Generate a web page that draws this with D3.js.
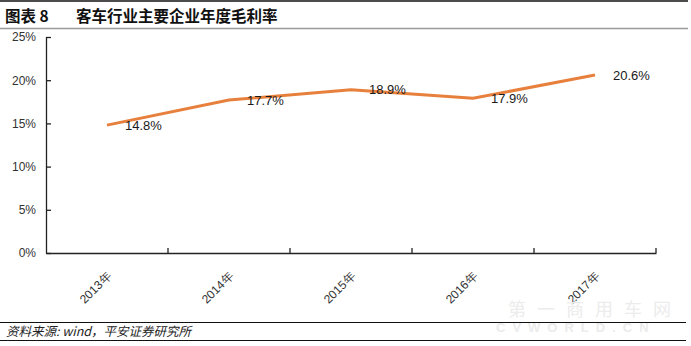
<!DOCTYPE html>
<html>
<head>
<meta charset="utf-8">
<script src="https://cdn.jsdelivr.net/npm/d3@7"></script>
<style>
  body { margin: 0; background: #fff; }
  svg { display: block; }
  text { font-family: "Liberation Sans", Arial, sans-serif; }
</style>
</head>
<body>
<div id="chart"></div>
<script>
// data
const years = ["2013年", "2014年", "2015年", "2016年", "2017年"];
const grossMargin = [14.8, 17.7, 18.9, 17.9, 20.6];
const yTicks = [0, 5, 10, 15, 20, 25];

const W = 691, H = 346;
const plot = { left: 46, right: 656, top: 37, bottom: 253 };

const svg = d3.select("#chart").append("svg")
    .attr("width", W)
    .attr("height", H);

// header rules + title
svg.append("line").attr("x1", 0).attr("x2", 688).attr("y1", 1).attr("y2", 1)
    .attr("stroke", "#111").attr("stroke-width", 1.5);
svg.append("line").attr("x1", 0).attr("x2", 688).attr("y1", 28.5).attr("y2", 28.5)
    .attr("stroke", "#9a9a9a").attr("stroke-width", 1.5);

svg.append("text")
    .attr("x", 5).attr("y", 17)
    .attr("dy", "0.35em")
    .style("font-family", "'Noto Sans CJK SC', sans-serif")
    .style("font-size", "15.5px")
    .style("font-weight", "bold")
    .attr("fill", "#111")
    .text("图表 8");
svg.append("text")
    .attr("x", 76).attr("y", 17)
    .attr("dy", "0.35em")
    .style("font-family", "'Noto Sans CJK SC', sans-serif")
    .style("font-size", "15.5px")
    .style("font-weight", "bold")
    .attr("fill", "#111")
    .text("客车行业主要企业年度毛利率");

// scales
const x = d3.scaleBand()
    .domain(years)
    .range([plot.left, plot.right]);
const y = d3.scaleLinear()
    .domain([0, 25])
    .range([plot.bottom, plot.top]);

// y axis, ticks pointing inward
const yAxis = svg.append("g")
    .attr("transform", `translate(${plot.left},0)`)
    .call(d3.axisLeft(y)
        .tickValues(yTicks)
        .tickSize(-5)
        .tickSizeOuter(0)
        .tickPadding(10)
        .tickFormat(d => d + "%"));
yAxis.select(".domain").attr("stroke", "#222").attr("stroke-width", 1.3);
yAxis.selectAll(".tick line").attr("stroke", "#222").attr("stroke-width", 1.3);
yAxis.selectAll(".tick text")
    .style("font-size", "12px")
    .attr("fill", "#333");

// x axis, labels rotated, ticks at band edges
const xAxis = svg.append("g")
    .attr("transform", `translate(0,${plot.bottom})`)
    .call(d3.axisBottom(x).tickSize(0).tickSizeOuter(0));
xAxis.select(".domain").attr("stroke", "#222").attr("stroke-width", 1.3);
xAxis.selectAll(".tick text")
    .attr("y", 0)
    .attr("dy", 0)
    .attr("text-anchor", "end")
    .attr("transform", "translate(5,24) rotate(-45)")
    .style("font-size", "12px")
    .attr("fill", "#333");

const edges = years.slice(1).map(d => x(d)).concat([x.range()[1]]);
xAxis.selectAll(".edge-tick")
    .data(edges)
    .enter()
    .append("line")
    .attr("class", "edge-tick")
    .attr("x1", d => d).attr("x2", d => d)
    .attr("y1", 0).attr("y2", -5)
    .attr("stroke", "#222")
    .attr("stroke-width", 1.3);

// line
const pts = years.map((d, i) => ({ year: d, value: grossMargin[i] }));
const line = d3.line()
    .x(d => x(d.year) + x.bandwidth() / 2)
    .y(d => y(d.value));

svg.append("path")
    .datum(pts)
    .attr("d", line)
    .attr("fill", "none")
    .attr("stroke", "#E8803D")
    .attr("stroke-width", 3)
    .attr("stroke-linejoin", "round");

// data labels, right of each point
svg.selectAll(".val")
    .data(pts)
    .enter()
    .append("text")
    .attr("class", "val")
    .attr("x", d => x(d.year) + x.bandwidth() / 2 + 18)
    .attr("y", d => y(d.value))
    .attr("dy", "0.35em")
    .style("font-size", "13px")
    .attr("fill", "#1a1a1a")
    .text(d => d.value.toFixed(1) + "%");

// watermark (faint)
svg.append("text")
    .attr("x", 508).attr("y", 316)
    .style("font-family", "'Noto Sans CJK SC', sans-serif")
    .style("font-size", "18px")
    .style("letter-spacing", "11px")
    .attr("fill", "#ececec")
    .text("第一商用车网");
svg.append("text")
    .attr("x", 496).attr("y", 332)
    .style("font-size", "13px")
    .style("font-weight", "bold")
    .style("letter-spacing", "7px")
    .attr("fill", "#ececec")
    .text("CVWORLD.CN");

// footer rules + source
svg.append("line").attr("x1", 0).attr("x2", 686).attr("y1", 322.5).attr("y2", 322.5)
    .attr("stroke", "#111").attr("stroke-width", 1);
svg.append("line").attr("x1", 0).attr("x2", 686).attr("y1", 340.5).attr("y2", 340.5)
    .attr("stroke", "#111").attr("stroke-width", 1);

svg.append("text")
    .attr("x", 6).attr("y", 332)
    .attr("dy", "0.35em")
    .style("font-family", "'Noto Sans CJK SC', sans-serif")
    .style("font-size", "12.5px")
    .style("font-style", "italic")
    .attr("fill", "#222")
    .text("资料来源: wind，平安证券研究所");
</script>
</body>
</html>
